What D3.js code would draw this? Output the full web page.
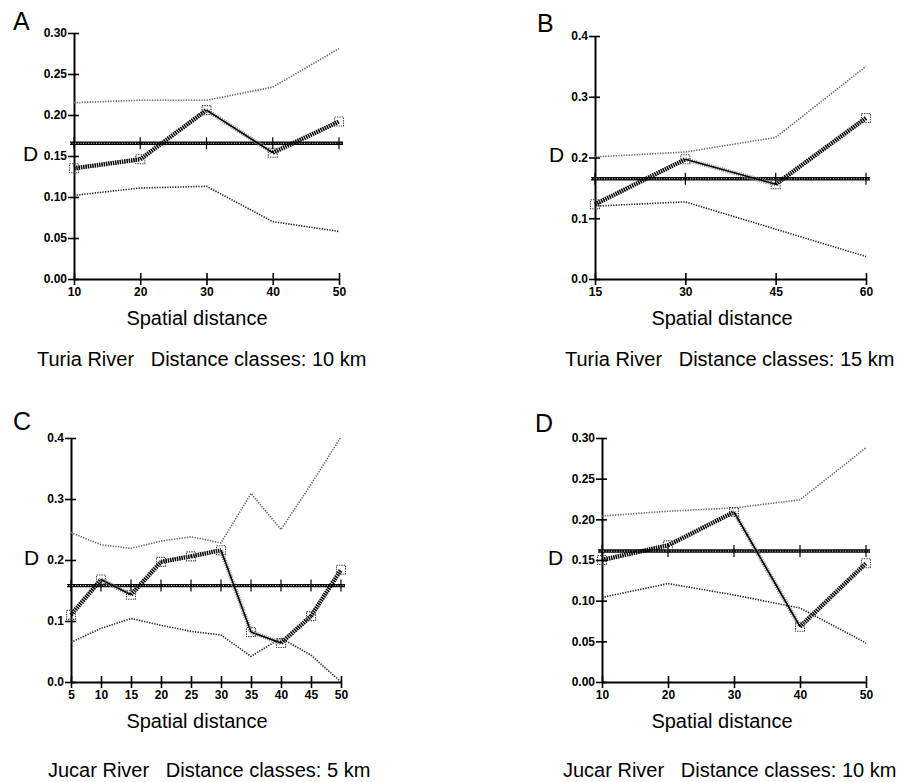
<!DOCTYPE html>
<html>
<head>
<meta charset="utf-8">
<script src="https://cdn.jsdelivr.net/npm/d3@7"></script>
<style>
  body { margin: 0; background: #fff; }
  text { font-family: "Liberation Sans", Arial, Helvetica, sans-serif; fill: #000; }
  .tick text { font-size: 12px; font-weight: bold; }
</style>
</head>
<body>
<script>
// values (Mantel-type D by distance class)
var distA = [10, 20, 30, 40, 50]
var obsA = [0.135, 0.146, 0.206, 0.154, 0.192]
var upA = [0.215, 0.218, 0.218, 0.234, 0.281]
var loA = [0.102, 0.111, 0.113, 0.070, 0.058]
var meanA = 0.1655

var distB = [15, 30, 45, 60]
var obsB = [0.123, 0.197, 0.156, 0.265]
var upB = [0.201, 0.209, 0.233, 0.350]
var loB = [0.120, 0.127, 0.082, 0.037]
var meanB = 0.165

var distC = [5, 10, 15, 20, 25, 30, 35, 40, 45, 50]
var obsC = [0.110, 0.168, 0.143, 0.197, 0.206, 0.216, 0.082, 0.064, 0.108, 0.184]
var upC = [0.245, 0.225, 0.219, 0.231, 0.238, 0.228, 0.309, 0.250, 0.324, 0.402]
var loC = [0.065, 0.088, 0.104, 0.093, 0.083, 0.077, 0.042, 0.072, 0.044, 0.000]
var meanC = 0.158

var distD = [10, 20, 30, 40, 50]
var obsD = [0.150, 0.168, 0.209, 0.068, 0.146]
var upD = [0.204, 0.210, 0.214, 0.224, 0.288]
var loD = [0.104, 0.121, 0.107, 0.091, 0.048]
var meanD = 0.161

var captions = ['Turia River   Distance classes: 10 km', 'Turia River   Distance classes: 15 km',
                'Jucar River   Distance classes: 5 km', 'Jucar River   Distance classes: 10 km']

var panels = [
  { letter: 'A', x: distA, obs: obsA, up: upA, lo: loA, mean: meanA, yMax: 0.30, yStep: 0.05, fmt: '.2f',
    box: { l: 74, r: 339, t: 33, b: 279 }, letterPos: [13, 30], dPos: [23, 161], cap: 0, capPos: [37, 366], xlabX: 197 },
  { letter: 'B', x: distB, obs: obsB, up: upB, lo: loB, mean: meanB, yMax: 0.4, yStep: 0.1, fmt: '.1f',
    box: { l: 595, r: 866, t: 36, b: 279 }, letterPos: [537, 32], dPos: [549, 162], cap: 1, capPos: [565, 366], xlabX: 722 },
  { letter: 'C', x: distC, obs: obsC, up: upC, lo: loC, mean: meanC, yMax: 0.4, yStep: 0.1, fmt: '.1f',
    box: { l: 71, r: 341, t: 438, b: 682 }, letterPos: [13, 430], dPos: [24, 565], cap: 2, capPos: [48, 777], xlabX: 197 },
  { letter: 'D', x: distD, obs: obsD, up: upD, lo: loD, mean: meanD, yMax: 0.30, yStep: 0.05, fmt: '.2f',
    box: { l: 602, r: 866, t: 438, b: 682 }, letterPos: [535, 432], dPos: [548, 565], cap: 3, capPos: [563, 777], xlabX: 722 }
]

var svg = d3.select('body').append('svg')
  .attr('width', 910)
  .attr('height', 782)

panels.forEach(function(p) {
  var x = d3.scaleLinear().domain(d3.extent(p.x)).range([p.box.l, p.box.r])
  var y = d3.scaleLinear().domain([0, p.yMax]).range([p.box.b, p.box.t])
  var g = svg.append('g').attr('class', 'panel')

  // axes
  var yTicks = d3.range(0, p.yMax + 1e-9, p.yStep)
  var yAxis = g.append('g')
    .attr('transform', 'translate(' + p.box.l + ',0)')
    .call(d3.axisLeft(y).tickValues(yTicks).tickFormat(d3.format(p.fmt)).tickSizeInner(6).tickSizeOuter(0).tickPadding(1))
  yAxis.select('.domain').attr('stroke-width', 2)
  yAxis.selectAll('.tick line').attr('x1', 5).attr('stroke-width', 1.6)

  var xAxis = g.append('g')
    .attr('transform', 'translate(0,' + p.box.b + ')')
    .call(d3.axisBottom(x).tickValues(p.x).tickFormat(d3.format('d')).tickSizeInner(6).tickSizeOuter(0).tickPadding(2))
  xAxis.select('.domain').attr('stroke-width', 2)
  xAxis.selectAll('.tick line').attr('y1', -6).attr('stroke-width', 1.6)

  var line = d3.line()
    .x(function(d) { return x(d[0]) })
    .y(function(d) { return y(d[1]) })

  // confidence envelope
  g.append('path')
    .attr('d', line(d3.zip(p.x, p.up)))
    .attr('fill', 'none').attr('stroke', '#666').attr('stroke-width', 1.6).attr('stroke-dasharray', '1.3,1.3')
  g.append('path')
    .attr('d', line(d3.zip(p.x, p.lo)))
    .attr('fill', 'none').attr('stroke', '#222').attr('stroke-width', 1.6).attr('stroke-dasharray', '1.3,1.3')

  // mean line with crosses
  var ym = y(p.mean)
  g.append('line')
    .attr('x1', p.box.l - 4).attr('x2', p.box.r + 4).attr('y1', ym).attr('y2', ym)
    .attr('stroke', '#000').attr('stroke-width', 3.4)
  g.append('line')
    .attr('x1', p.box.l - 4).attr('x2', p.box.r + 4).attr('y1', ym).attr('y2', ym)
    .attr('stroke', '#fff').attr('stroke-width', 0.9).attr('stroke-dasharray', '1,1.6')
  g.selectAll('line.cross')
    .data(p.x)
    .enter().append('line')
    .attr('class', 'cross')
    .attr('x1', function(d) { return x(d) }).attr('x2', function(d) { return x(d) })
    .attr('y1', ym - 6).attr('y2', ym + 6)
    .attr('stroke', '#000').attr('stroke-width', 1.2)

  // observed D, segment by segment (falling segments look different in the original)
  var pts = d3.zip(p.x, p.obs)
  for (var i = 0; i < pts.length - 1; i++) {
    var seg = line([pts[i], pts[i + 1]])
    if (pts[i + 1][1] < pts[i][1]) {
      g.append('path').attr('d', seg).attr('fill', 'none')
        .attr('stroke', '#888').attr('stroke-width', 4.5).attr('stroke-dasharray', '1,1.2')
      g.append('path').attr('d', seg).attr('fill', 'none')
        .attr('stroke', '#000').attr('stroke-width', 1.6)
    } else {
      g.append('path').attr('d', seg).attr('fill', 'none')
        .attr('stroke', '#000').attr('stroke-width', 4.4).attr('stroke-dasharray', '1.5,0.8')
    }
  }
  g.selectAll('rect.mark')
    .data(pts)
    .enter().append('rect')
    .attr('class', 'mark')
    .attr('x', function(d) { return x(d[0]) - 4.5 })
    .attr('y', function(d) { return y(d[1]) - 4.5 })
    .attr('width', 9).attr('height', 9)
    .attr('fill', 'none').attr('stroke', '#444').attr('stroke-width', 1.1).attr('stroke-dasharray', '1.4,1')

  // text
  g.append('text').attr('x', p.letterPos[0]).attr('y', p.letterPos[1])
    .style('font-size', '25px').text(p.letter)
  g.append('text').attr('x', p.dPos[0]).attr('y', p.dPos[1])
    .style('font-size', '21px').text('D')
  g.append('text').attr('x', p.xlabX).attr('y', p.box.b + 46)
    .attr('text-anchor', 'middle').style('font-size', '20px').text('Spatial distance')
  g.append('text').attr('x', p.capPos[0]).attr('y', p.capPos[1])
    .style('font-size', '20px').style('white-space', 'pre').attr('xml:space', 'preserve')
    .text(captions[p.cap])
})
</script>
</body>
</html>
